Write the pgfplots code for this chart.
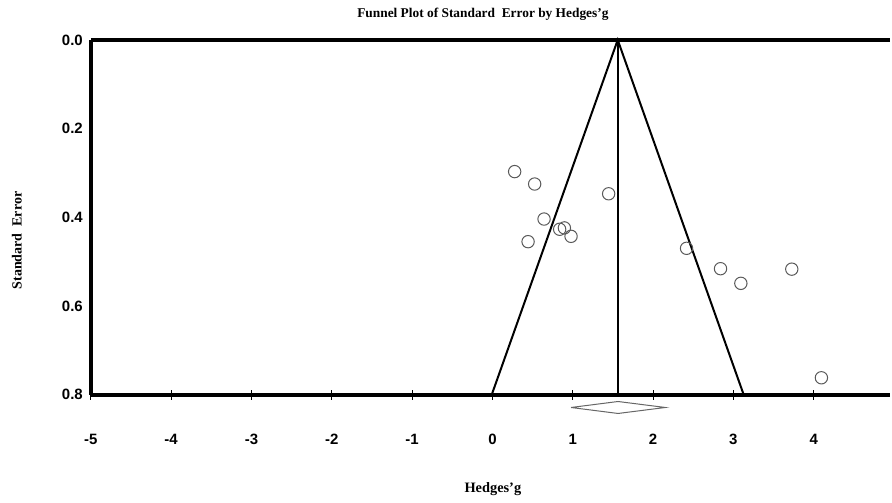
\documentclass[border=0pt]{standalone}
\usepackage{fontspec}
\setmainfont{Liberation Serif}
\setsansfont{Liberation Sans}
\usepackage{pgfplots}
\pgfplotsset{compat=1.18}
\begin{document}
\begin{tikzpicture}
\path (0,0) rectangle (446pt,-249pt);
\begin{axis}[
  at={(45.5pt,-20pt)}, anchor=north west,
  scale only axis, width=400.5pt, height=177.75pt,
  xmin=-5, xmax=4.95, ymin=0, ymax=0.8, y dir=reverse,
  clip=false,
  axis x line*=box, axis y line*=left,
  axis line style={line width=2pt, -},
  xtick={-5,-4,-3,-2,-1,0,1,2,3,4},
  ytick={0,0.2,0.4,0.6,0.8},
  xtick pos=bottom, ytick pos=left,
  xtick align=center,
  major tick length=5pt,
  xtick style={line width=0.4pt, black},
  ytick style={draw=none},
  /pgf/number format/assume math mode=true,
  tick label style={font=\sffamily\bfseries\fontsize{7.5}{9}\selectfont},
  yticklabel style={/pgf/number format/fixed, /pgf/number format/fixed zerofill, /pgf/number format/precision=1, anchor=east, xshift=-0.5pt},
  xticklabel style={anchor=center, yshift=-20pt},
  title={Funnel Plot of Standard\ \ Error by Hedges'g},
  title style={at={(axis description cs:0.4906,1.073)}, anchor=center, yshift=-6pt, font=\bfseries\fontsize{6.7}{8}\selectfont},
  xlabel={Hedges'g},
  xlabel style={at={(axis description cs:0.5031,-0.2658)}, anchor=center, font=\bfseries\fontsize{7.2}{8}\selectfont},
  ylabel={Standard\ \ Error},
  ylabel style={at={(axis description cs:-0.0924,0.4346)}, anchor=center, font=\bfseries\fontsize{7}{8}\selectfont},
]
% funnel
\addplot[black, line width=1pt] coordinates {(-0.008,0.8) (1.56,0) (3.128,0.8)};
\addplot[black, line width=0.8pt] coordinates {(1.56,0) (1.56,0.8)};
% summary diamond
\addplot[gray!80!black, line width=0.5pt, fill=white] coordinates {(0.979,0.829) (1.564,0.8155) (2.153,0.829) (1.564,0.8425) (0.979,0.829)};
% studies
\addplot[only marks, mark=o, mark size=3.1pt, gray!70!black, mark options={line width=0.5pt}] coordinates {
(0.277,0.297)
(0.526,0.325)
(1.447,0.347)
(0.643,0.404)
(0.837,0.427)
(0.896,0.424)
(0.979,0.443)
(0.444,0.455)
(2.417,0.470)
(2.84,0.516)
(3.093,0.549)
(3.727,0.517)
(4.096,0.762)
};
\end{axis}
\end{tikzpicture}
\end{document}
